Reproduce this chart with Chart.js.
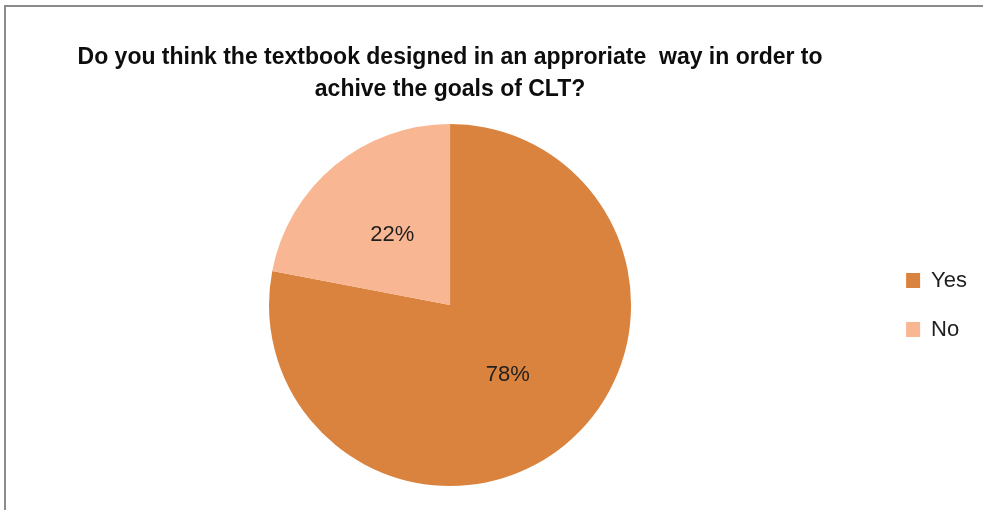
<!DOCTYPE html>
<html>
<head>
<meta charset="utf-8">
<script src="https://cdn.jsdelivr.net/npm/chart.js@4/dist/chart.umd.min.js"></script>
<style>
    body { margin: 0; background: #fff; }
    #wrap { position: relative; width: 983px; height: 510px; overflow: hidden; }
    #frame {
        position: absolute; left: 4px; top: 5px; width: 1200px; height: 800px;
        border-left: 2px solid #8c8c8c; border-top: 2px solid #8c8c8c;
    }
    #grafico { position: absolute; left: 0; top: 0; }
</style>
</head>
<body>
<div id="wrap">
    <div id="frame"></div>
    <canvas id="grafico" width="983" height="510"></canvas>
</div>
<script>
const categorias = ["Yes", "No"];
const valores = [78, 22];
const cores = ["#DA833E", "#F8B692"];
const titulo = ["Do you think the textbook designed in an approriate  way in order to", "achive the goals of CLT?"];

const fonte = "'Liberation Sans', Arial, sans-serif";

// percentuais dentro das fatias
const rotulosFatias = {
    id: "rotulosFatias",
    afterDatasetsDraw(chart) {
        const ctx = chart.ctx;
        const meta = chart.getDatasetMeta(0);
        const total = valores.reduce((acc, v) => acc + v, 0);
        ctx.save();
        ctx.font = "22px " + fonte;
        ctx.fillStyle = "#1f1f1f";
        ctx.textAlign = "center";
        ctx.textBaseline = "middle";
        meta.data.forEach((arco, i) => {
            const p = arco.getCenterPoint();
            const pct = Math.round(valores[i] / total * 100) + "%";
            ctx.fillText(pct, p.x, p.y);
        });
        ctx.restore();
    }
};

const ctx = document.getElementById("grafico").getContext("2d");

new Chart(ctx, {
    type: "pie",
    data: {
        labels: categorias,
        datasets: [
            {
                data: valores,
                backgroundColor: cores,
                borderWidth: 0,
            },
        ],
    },
    options: {
        responsive: false,
        animation: false,
        layout: {
            padding: { left: 21, right: 6, top: 0, bottom: 24 },
        },
        plugins: {
            title: {
                display: true,
                text: titulo,
                fullSize: false,
                color: "#0d0d0d",
                font: { family: fonte, size: 23, weight: "bold", lineHeight: "32px" },
                padding: { top: 42, bottom: 18 },
            },
            legend: {
                position: "right",
                fullSize: false,
                labels: {
                    color: "#1f1f1f",
                    font: { family: fonte, size: 22 },
                    boxWidth: 14,
                    boxHeight: 15,
                    padding: 27,
                },
            },
            tooltip: { enabled: false },
        },
    },
    plugins: [rotulosFatias],
});
</script>
</body>
</html>
